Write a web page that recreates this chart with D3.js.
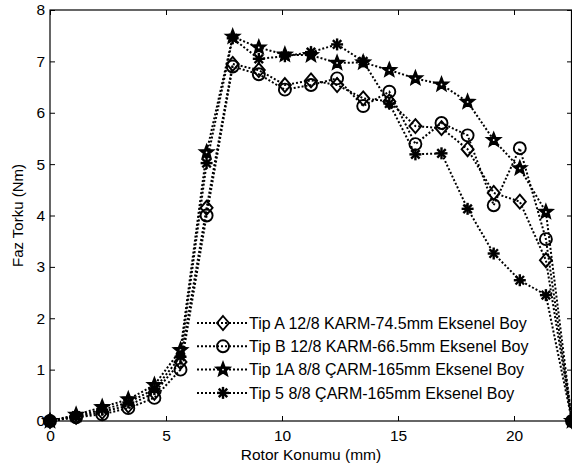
<!DOCTYPE html>
<html>
<head>
<meta charset="utf-8">
<script src="https://cdn.jsdelivr.net/npm/d3@7"></script>
<style>
  body { margin: 0; background: #fff; }
  text { font-family: "Liberation Sans", Arial, sans-serif; fill: #000; }
</style>
</head>
<body>
<div id="chart"></div>
<script>
// Rotor position (mm), 21 samples
const positions = [0, 1.125, 2.25, 3.375, 4.5, 5.625, 6.75, 7.875, 9, 10.125, 11.25,
    12.375, 13.5, 14.625, 15.75, 16.875, 18, 19.125, 20.25, 21.375, 22.5];

// Phase torque (Nm) per motor type
const tipA = [0, 0.08, 0.18, 0.30, 0.55, 1.15, 4.15, 6.95, 6.83, 6.54, 6.63,
    6.54, 6.28, 6.22, 5.74, 5.70, 5.29, 4.44, 4.27, 3.13, 0];
const tipB = [0, 0.07, 0.13, 0.25, 0.45, 1.00, 4.00, 6.90, 6.75, 6.45, 6.54,
    6.67, 6.13, 6.41, 5.39, 5.80, 5.56, 4.20, 5.31, 3.54, 0];
const tip1A = [0, 0.12, 0.27, 0.42, 0.70, 1.38, 5.23, 7.48, 7.27, 7.13, 7.12,
    6.97, 6.98, 6.83, 6.67, 6.55, 6.21, 5.47, 4.92, 4.07, 0];
const tip5 = [0, 0.10, 0.22, 0.36, 0.62, 1.25, 5.02, 7.45, 7.05, 7.10, 7.18,
    7.33, 7.00, 6.18, 5.19, 5.21, 4.13, 3.26, 2.74, 2.45, 0];

const seriesNames = [
    "Tip A 12/8 KARM-74.5mm Eksenel Boy",
    "Tip B 12/8 KARM-66.5mm Eksenel Boy",
    "Tip 1A 8/8 ÇARM-165mm Eksenel Boy",
    "Tip 5 8/8 ÇARM-165mm Eksenel Boy"
];
const seriesValues = [tipA, tipB, tip1A, tip5];
const markerTypes = ["diamond", "circle", "pentagram", "asterisk"];

const xTicks = [0, 5, 10, 15, 20];
const yTicks = [0, 1, 2, 3, 4, 5, 6, 7, 8];

// Dimensions
const W = 572, H = 472;
const margin = {top: 10, right: 0, bottom: 51, left: 50};
const width = W - margin.left - margin.right,
    height = H - margin.top - margin.bottom;

const svg = d3.select("#chart")
    .append("svg")
    .attr("width", W)
    .attr("height", H);

const g = svg.append("g")
    .attr("transform", `translate(${margin.left},${margin.top})`);

const x = d3.scaleLinear().domain([0, 22.5]).range([0, width]);
const y = d3.scaleLinear().domain([0, 8]).range([height, 0]);

// Axes with inward ticks (matlab style)
const tickLen = 5;
g.append("g")
    .attr("transform", `translate(0,${height})`)
    .call(d3.axisBottom(x).tickValues(xTicks).tickSizeInner(-tickLen).tickSizeOuter(0).tickPadding(9))
    .call(a => a.select(".domain").remove());
g.append("g")
    .call(d3.axisTop(x).tickValues(xTicks).tickSizeInner(-tickLen).tickSizeOuter(0).tickFormat(""))
    .call(a => a.select(".domain").remove());
g.append("g")
    .call(d3.axisLeft(y).tickValues(yTicks).tickSizeInner(-tickLen).tickSizeOuter(0).tickPadding(5))
    .call(a => a.select(".domain").remove());
g.append("g")
    .attr("transform", `translate(${width},0)`)
    .call(d3.axisRight(y).tickValues(yTicks).tickSizeInner(-tickLen).tickSizeOuter(0).tickFormat(""))
    .call(a => a.select(".domain").remove());

g.selectAll(".tick text").style("font-size", "15.5px").style("font-family", "Liberation Sans, Arial, sans-serif");
g.selectAll(".tick line").attr("stroke", "#000");

// Box
g.append("rect")
    .attr("x", 0).attr("y", 0)
    .attr("width", width - 0.5).attr("height", height)
    .attr("fill", "none")
    .attr("stroke", "#000")
    .attr("stroke-width", 1.2);

// Marker drawing
function drawMarker(sel, type, cx, cy) {
    const m = sel.append("g").attr("transform", `translate(${cx},${cy})`);
    if (type === "circle") {
        m.append("circle").attr("r", 6)
            .attr("fill", "none").attr("stroke", "#000").attr("stroke-width", 1.9);
    } else if (type === "diamond") {
        m.append("path").attr("d", "M0,-7L6,0L0,7L-6,0Z")
            .attr("fill", "none").attr("stroke", "#000").attr("stroke-width", 1.9);
    } else if (type === "pentagram") {
        const pts = [];
        for (let k = 0; k < 10; k++) {
            const r = k % 2 === 0 ? 7.5 : 3.2;
            const a = -Math.PI / 2 + k * Math.PI / 5;
            pts.push([r * Math.cos(a), r * Math.sin(a)]);
        }
        m.append("path").attr("d", d3.line()(pts) + "Z")
            .attr("fill", "#000").attr("stroke", "#000").attr("stroke-width", 1.5)
            .attr("stroke-linejoin", "miter");
        m.append("circle").attr("r", 0.9).attr("fill", "#fff");
    } else if (type === "asterisk") {
        const r = 6;
        [0, 45, 90, 135].forEach(deg => {
            const a = deg * Math.PI / 180;
            m.append("line")
                .attr("x1", -r * Math.cos(a)).attr("y1", -r * Math.sin(a))
                .attr("x2", r * Math.cos(a)).attr("y2", r * Math.sin(a))
                .attr("stroke", "#000").attr("stroke-width", 2.4);
        });
    }
}

const line = d3.line()
    .x((d, i) => x(positions[i]))
    .y(d => y(d));

// Series
seriesValues.forEach((vals, s) => {
    g.append("path")
        .datum(vals)
        .attr("d", line)
        .attr("fill", "none")
        .attr("stroke", "#000")
        .attr("stroke-width", 2)
        .attr("stroke-dasharray", "2,2");
    const mg = g.append("g");
    vals.forEach((v, i) => drawMarker(mg, markerTypes[s], x(positions[i]), y(v)));
});

// Legend
const legend = g.append("g").attr("transform", `translate(147,313)`);
seriesNames.forEach((name, s) => {
    const ly = s * 23.3;
    legend.append("line")
        .attr("x1", 0).attr("x2", 51)
        .attr("y1", ly).attr("y2", ly)
        .attr("stroke", "#000")
        .attr("stroke-width", 2)
        .attr("stroke-dasharray", "2,2");
    drawMarker(legend, markerTypes[s], 26, ly);
    legend.append("text")
        .attr("x", 52)
        .attr("y", ly)
        .attr("dy", "0.36em")
        .style("font-size", "16px")
        .text(name);
});

// Axis titles
svg.append("text")
    .attr("x", margin.left + width / 2)
    .attr("y", 460)
    .attr("text-anchor", "middle")
    .style("font-size", "15.5px")
    .text("Rotor Konumu (mm)");

svg.append("text")
    .attr("transform", `translate(23,${margin.top + height / 2}) rotate(-90)`)
    .attr("text-anchor", "middle")
    .style("font-size", "15px")
    .text("Faz Torku (Nm)");
</script>
</body>
</html>
